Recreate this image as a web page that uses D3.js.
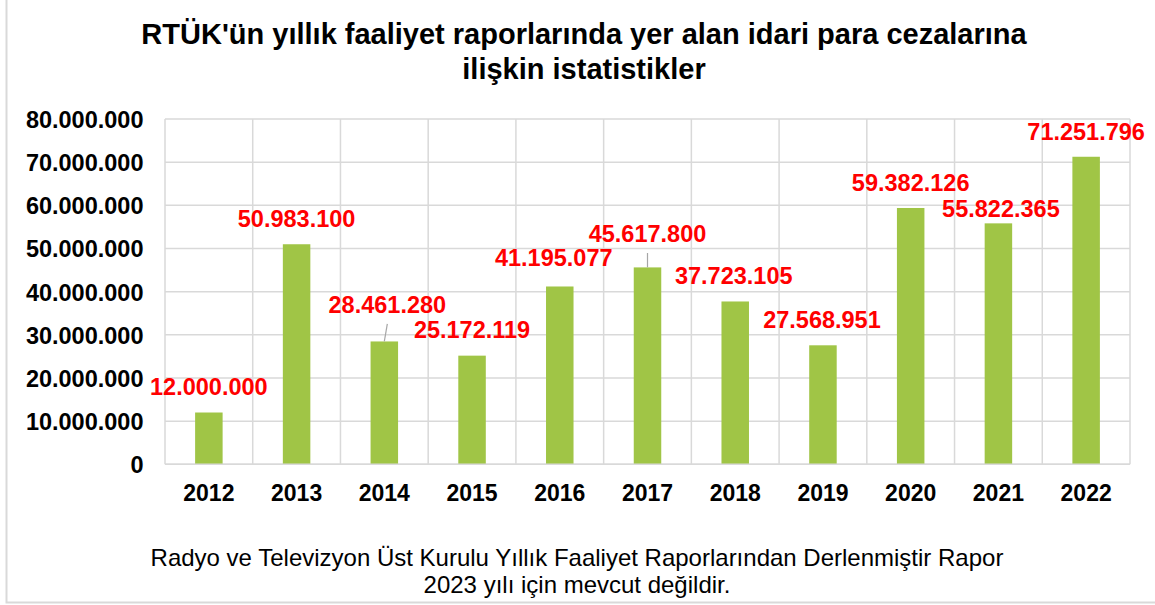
<!DOCTYPE html>
<html>
<head>
<meta charset="utf-8">
<script src="https://cdn.jsdelivr.net/npm/d3@7"></script>
<style>
  html, body { margin: 0; padding: 0; background: #fff; }
  svg { display: block; font-family: "Liberation Sans", Arial, sans-serif; }
</style>
</head>
<body>
<svg id="chart" width="1155" height="605"></svg>
<script>
const years = ["2012","2013","2014","2015","2016","2017","2018","2019","2020","2021","2022"];
const fines = [12000000, 50983100, 28461280, 25172119, 41195077, 45617800, 37723105, 27568951, 59382126, 55822365, 71251796];
const yTicks = [0, 10000000, 20000000, 30000000, 40000000, 50000000, 60000000, 70000000, 80000000];
// manual label nudges (px) relative to default position above bar top
const labelDx = [0, 0, 3, 0, -6, 0, -1.5, -1, 0, 2.5, 0];
const labelDy = [-17.5, -17.3, -28.5, -17.7, -20, -25.4, -17.5, -17.3, -17, -6.7, -16.8];
const titleLines = ["RTÜK'ün yıllık faaliyet raporlarında yer alan idari para cezalarına", "ilişkin istatistikler"];
const noteLines = ["Radyo ve Televizyon Üst Kurulu Yıllık Faaliyet Raporlarından Derlenmiştir Rapor", "2023 yılı için mevcut değildir."];

const fmt = v => d3.format(",")(v).replace(/,/g, ".");

const svg = d3.select("#chart");
const W = 1155, H = 605;
const m = { left: 165, right: 1130, top: 119, bottom: 464.3 };

// outer border
svg.append("rect").attr("x", 6.5).attr("y", -10).attr("width", W + 20).attr("height", 602.5 + 10)
  .attr("fill", "#fff").attr("stroke", "#d9d9d9").attr("stroke-width", 2);

const x = d3.scaleBand().domain(years).range([m.left, m.right]).paddingInner(0).paddingOuter(0);
const y = d3.scaleLinear().domain([0, 80000000]).range([m.bottom, m.top]);
const barW = 27.5;

// horizontal gridlines
svg.append("g").selectAll("line").data(yTicks).join("line")
  .attr("x1", m.left).attr("x2", m.right)
  .attr("y1", d => y(d)).attr("y2", d => y(d))
  .attr("stroke", "#d9d9d9").attr("stroke-width", 1.5);

// vertical gridlines at category boundaries
const bounds = years.map(c => x(c)).concat([m.right]);
svg.append("g").selectAll("line").data(bounds).join("line")
  .attr("x1", d => d).attr("x2", d => d)
  .attr("y1", m.top).attr("y2", m.bottom)
  .attr("stroke", "#d9d9d9").attr("stroke-width", 1.5);

// bars
svg.append("g").selectAll("rect").data(fines).join("rect")
  .attr("x", (d, i) => x(years[i]) + x.bandwidth() / 2 - barW / 2)
  .attr("width", barW)
  .attr("y", d => y(d))
  .attr("height", d => y(0) - y(d))
  .attr("fill", "#a0c546");

// x axis line
svg.append("line").attr("x1", m.left).attr("x2", m.right).attr("y1", m.bottom).attr("y2", m.bottom)
  .attr("stroke", "#d9d9d9").attr("stroke-width", 1.5);

// y axis labels
const yAxis = d3.axisLeft(y).tickValues(yTicks).tickFormat(fmt).tickSize(0).tickPadding(0);
const gy = svg.append("g").attr("transform", `translate(143.5,0)`).call(yAxis);
gy.select(".domain").remove();
gy.selectAll("text").attr("font-size", "23.5px").attr("font-weight", "bold").attr("fill", "#000")
  .attr("font-family", "'Liberation Sans', Arial, sans-serif").attr("dy", "0.36em");

// x axis labels
const xAxis = d3.axisBottom(x).tickSize(0).tickPadding(0);
const gx = svg.append("g").attr("transform", `translate(0,501)`).call(xAxis);
gx.select(".domain").remove();
gx.selectAll("text").attr("font-size", "23px").attr("font-weight", "bold").attr("fill", "#000")
  .attr("font-family", "'Liberation Sans', Arial, sans-serif").attr("dy", 0).attr("y", 0);

// leader lines for moved labels
const leaders = [2, 5];
svg.append("g").selectAll("line").data(leaders).join("line")
  .attr("x1", i => x(years[i]) + x.bandwidth() / 2 + labelDx[i])
  .attr("y1", i => y(fines[i]) + labelDy[i] + 11)
  .attr("x2", i => x(years[i]) + x.bandwidth() / 2)
  .attr("y2", i => y(fines[i]))
  .attr("stroke", "#a6a6a6").attr("stroke-width", 1.2);

// data labels
svg.append("g").selectAll("text").data(fines).join("text")
  .attr("x", (d, i) => x(years[i]) + x.bandwidth() / 2 + labelDx[i])
  .attr("y", (d, i) => y(d) + labelDy[i])
  .attr("text-anchor", "middle")
  .attr("font-size", "23.5px").attr("font-weight", "bold").attr("fill", "#ff0000")
  .text(d => fmt(d));

// title
svg.append("g").selectAll("text").data(titleLines).join("text")
  .attr("x", 584).attr("y", (d, i) => 44 + i * 35)
  .attr("text-anchor", "middle").attr("font-size", "29px").attr("font-weight", "bold").attr("fill", "#000")
  .text(d => d);

// footnote
svg.append("g").selectAll("text").data(noteLines).join("text")
  .attr("x", 577).attr("y", (d, i) => 565.5 + i * 27)
  .attr("text-anchor", "middle").attr("font-size", "24px").attr("fill", "#000")
  .text(d => d);
</script>
</body>
</html>
